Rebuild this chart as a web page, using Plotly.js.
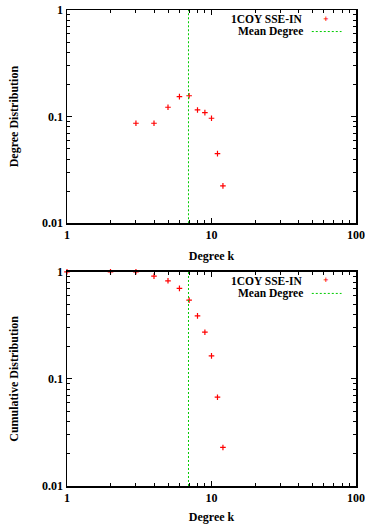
<!DOCTYPE html>
<html><head><meta charset="utf-8">
<script src="https://cdn.plot.ly/plotly-3.0.1.min.js"></script>
<style>html,body{margin:0;padding:0;background:#fff}#c{width:365px;height:524px}</style>
</head><body><div id="c"></div>
<script>
var degrees = [3, 4, 5, 6, 7, 8, 9, 10, 11, 12];
var degreeDist = [0.0867, 0.0867, 0.1225, 0.154, 0.157, 0.1155, 0.109, 0.0966, 0.045, 0.0224];
var cumDegrees = [1, 2, 3, 4, 5, 6, 7, 8, 9, 10, 11, 12];
var cumDist = [1, 1, 1, 0.912, 0.824, 0.70, 0.544, 0.388, 0.273, 0.164, 0.0675, 0.0229];
var meanDegree = 6.93;
var seriesName = '1COY SSE-IN';
var meanName = 'Mean Degree';
var yTitles = ['Degree Distribution', 'Cumulative Distribution'];
var xTitle = 'Degree k';

var F = 'Liberation Serif, Times New Roman, serif';
var mk = {symbol: 'cross-thin', size: 4, color: '#ff0000', line: {color: '#ff0000', width: 1.2}};

var traces = [
  {x: degrees, y: degreeDist, mode: 'markers', marker: mk, xaxis: 'x', yaxis: 'y', name: seriesName, showlegend: false},
  {x: [meanDegree, meanDegree], y: [0.01, 1], mode: 'lines', line: {color: '#00cc00', width: 1, dash: '2px,2px'}, xaxis: 'x', yaxis: 'y', showlegend: false},
  {x: cumDegrees, y: cumDist, mode: 'markers', marker: mk, xaxis: 'x2', yaxis: 'y2', name: seriesName, showlegend: false, cliponaxis: false},
  {x: [meanDegree, meanDegree], y: [0.01, 1], mode: 'lines', line: {color: '#00cc00', width: 1, dash: '2px,2px'}, xaxis: 'x2', yaxis: 'y2', showlegend: false}
];

function xax(anchor) {
  return {type: 'log', range: [0, 2], dtick: 1, anchor: anchor,
    ticks: 'inside', ticklen: 5, tickwidth: 1, tickcolor: '#000',
    minor: {ticks: 'inside', ticklen: 3, tickcolor: '#000'},
    showline: true, linecolor: '#000', linewidth: 1.5, mirror: 'ticks',
    showgrid: false, zeroline: false,
    tickfont: {family: F, size: 12, color: '#000', weight: 'bold'},
    title: {text: xTitle, font: {family: F, size: 12, color: '#000', weight: 'bold'}, standoff: 10}
  };
}
function yax(anchor, dom, t) {
  return {type: 'log', range: [-2, 0], dtick: 1, anchor: anchor, domain: dom,
    ticks: 'inside', ticklen: 5, tickwidth: 1, tickcolor: '#000',
    minor: {ticks: 'inside', ticklen: 3, tickcolor: '#000'},
    showline: true, linecolor: '#000', linewidth: 1.5, mirror: 'ticks',
    showgrid: false, zeroline: false,
    tickfont: {family: F, size: 12, color: '#000', weight: 'bold'},
    title: {text: t, font: {family: F, size: 12, color: '#000', weight: 'bold'}, standoff: 21}
  };
}

var layout = {
  width: 365, height: 524,
  margin: {l: 67, r: 9, t: 10, b: 38},
  paper_bgcolor: '#fff', plot_bgcolor: '#fff',
  showlegend: false,
  xaxis: xax('y'),
  yaxis: yax('x', [0.552, 1], yTitles[0]),
  xaxis2: xax('y2'),
  yaxis2: yax('x2', [0, 0.450], yTitles[1]),
  annotations: [],
  shapes: []
};
[['x domain', 'y domain'], ['x2 domain', 'y2 domain']].forEach(function (a) {
  var xr = a[0], yr = a[1];
  layout.annotations.push(
    {xref: xr, yref: yr, x: 0.82, y: 0.958, xanchor: 'right', yanchor: 'middle', showarrow: false, borderpad: 0, text: seriesName, font: {family: F, size: 11.5, color: '#000', weight: 'bold'}},
    {xref: xr, yref: yr, x: 0.82, y: 0.899, xanchor: 'right', yanchor: 'middle', showarrow: false, borderpad: 0, text: meanName, font: {family: F, size: 11.5, color: '#000', weight: 'bold'}},
    {xref: xr, yref: yr, x: 0.896, y: 0.960, xanchor: 'center', yanchor: 'middle', showarrow: false, borderpad: 0, text: '+', font: {family: 'DejaVu Sans', size: 7, color: '#ff0000', weight: 'bold'}}
  );
  layout.shapes.push({type: 'line', xref: xr, yref: yr, x0: 0.847, x1: 0.95, y0: 0.899, y1: 0.899, line: {color: '#00cc00', width: 1, dash: '2px,2px'}});
});
Plotly.newPlot('c', traces, layout, {staticPlot: true});
</script></body></html>
